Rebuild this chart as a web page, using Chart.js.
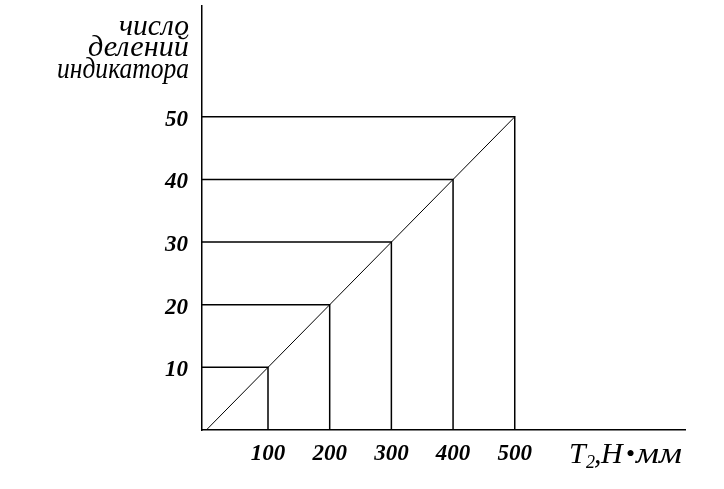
<!DOCTYPE html>
<html lang="ru">
<head>
<meta charset="UTF-8">
<title>Тарировочный график</title>
<script src="https://cdn.jsdelivr.net/npm/chart.js"></script>
<style>
  body { margin: 0; background: #fff; }
  canvas { display: block; }
</style>
</head>
<body>
<canvas id="graph" width="724" height="489"></canvas>
<script>
// момент T2, Н·мм
var torque = [100, 200, 300, 400, 500];
// число делений индикатора
var divisions = [10, 20, 30, 40, 50];
var xTicks = [100, 200, 300, 400, 500];
var yTicks = [10, 20, 30, 40, 50];
var yTitle = ['число', 'делений', 'индикатора'];

var X_MIN = -7, X_MAX = 776, Y_MIN = 0, Y_MAX = 67.7;
var SERIF = '"Liberation Serif", "Times New Roman", serif';

// main line through the calibration points
var datasets = [{
    data: [{x: 0, y: 0}].concat(torque.map(function(t, i) { return {x: t, y: divisions[i]}; })),
    borderWidth: 1
}];
// the L-shaped projections to both axes
torque.forEach(function(t, i) {
    datasets.push({
        data: [{x: X_MIN, y: divisions[i]}, {x: t, y: divisions[i]}, {x: t, y: Y_MIN}],
        borderWidth: 1.5
    });
});

// draw text squeezed/stretched to a given width, right or left anchored
function fitText(ctx, text, x, y, width, alignRight) {
    var w = ctx.measureText(text).width;
    ctx.save();
    ctx.translate(alignRight ? x - width : x, y);
    ctx.scale(width / w, 1);
    ctx.textAlign = 'left';
    ctx.fillText(text, 0, 0);
    ctx.restore();
}

var handLabels = {
    id: 'handLabels',
    afterDraw: function(chart) {
        var ctx = chart.ctx, area = chart.chartArea;
        ctx.save();
        ctx.fillStyle = '#000';
        ctx.textBaseline = 'alphabetic';

        // caption of the y axis, three lines right-aligned
        ctx.font = 'italic 29px ' + SERIF;
        var widths = [70, 101, 132];
        var bases = [35, 56, 78];
        yTitle.forEach(function(line, i) {
            fitText(ctx, line, area.left - 13, bases[i], widths[i], true);
        });

        // T2,Н•мм with a real subscript
        var base = area.bottom + 33;
        ctx.textAlign = 'left';
        ctx.font = 'italic 30px ' + SERIF;
        ctx.fillText('T', 569, base);
        ctx.font = 'italic 18px ' + SERIF;
        ctx.fillText('2', 586, base + 5);
        ctx.font = 'italic 30px ' + SERIF;
        ctx.fillText(',', 594, base);
        ctx.fillText('Н', 601, base);
        ctx.font = '26px ' + SERIF;
        ctx.fillText('•', 626, base - 1);
        ctx.font = 'italic 30px ' + SERIF;
        fitText(ctx, 'мм', 636, base, 46, false);
        ctx.restore();
    }
};

var tickFont = { family: SERIF, size: 23, style: 'italic', weight: 'bold' };

var ctx = document.getElementById('graph').getContext('2d');
var chart = new Chart(ctx, {
    type: 'line',
    data: { datasets: datasets },
    plugins: [handLabels],
    options: {
        responsive: false,
        animation: false,
        layout: { padding: { top: 6, right: 39, left: 0, bottom: 0 } },
        elements: {
            line: { borderColor: '#000', tension: 0, fill: false },
            point: { radius: 0 }
        },
        plugins: {
            legend: { display: false },
            tooltip: { enabled: false }
        },
        scales: {
            x: {
                type: 'linear',
                min: X_MIN,
                max: X_MAX,
                grid: { display: false },
                border: { color: '#000', width: 1.5 },
                ticks: { font: tickFont, color: '#000', padding: 2, maxRotation: 0 },
                afterBuildTicks: function(s) { s.ticks = xTicks.map(function(v) { return {value: v}; }); },
                afterFit: function(s) { s.height = 59; s.paddingLeft = 0; s.paddingRight = 0; }
            },
            y: {
                type: 'linear',
                min: Y_MIN,
                max: Y_MAX,
                grid: { display: false },
                border: { color: '#000', width: 1.5 },
                ticks: { font: tickFont, color: '#000', padding: 6, labelOffset: 3 },
                afterBuildTicks: function(s) { s.ticks = yTicks.map(function(v) { return {value: v}; }); },
                afterFit: function(s) { s.width = 202; s.paddingTop = 0; s.paddingBottom = 0; }
            }
        }
    }
});
</script>
</body>
</html>
